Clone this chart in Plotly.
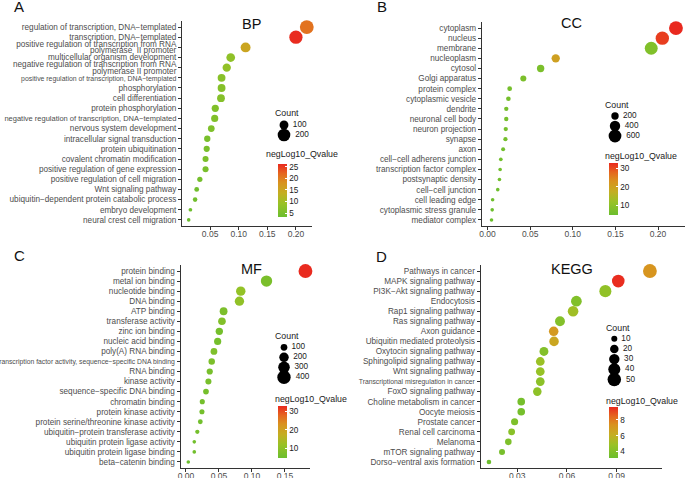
import plotly.graph_objects as go

W, H = 685, 478
FONT = "Liberation Sans, Arial, sans-serif"
MINUS = "\u2212"

# ---------------- data ----------------
bp_terms = [
    "regulation of transcription, DNA-templated",
    "transcription, DNA-templated",
    "positive regulation of transcription from RNA polymerase II promoter",
    "multicellular organism development",
    "negative regulation of transcription from RNA polymerase II promoter",
    "positive regulation of transcription, DNA-templated",
    "phosphorylation",
    "cell differentiation",
    "protein phosphorylation",
    "negative regulation of transcription, DNA-templated",
    "nervous system development",
    "intracellular signal transduction",
    "protein ubiquitination",
    "covalent chromatin modification",
    "positive regulation of gene expression",
    "positive regulation of cell migration",
    "Wnt signaling pathway",
    "ubiquitin-dependent protein catabolic process",
    "embryo development",
    "neural crest cell migration",
]
bp_ratio = [0.219, 0.200, 0.112, 0.086, 0.079, 0.070, 0.070, 0.069, 0.059, 0.058,
            0.052, 0.045, 0.044, 0.042, 0.042, 0.032, 0.0265, 0.0237, 0.0155, 0.0125]
bp_count = [241, 220, 123, 95, 87, 77, 77, 76, 65, 64, 57, 50, 48, 46, 46, 35, 29, 26, 17, 14]
bp_q = [21.0, 26.0, 15.0, 7.9, 8.3, 7.0, 6.6, 6.5, 6.0, 6.0, 5.8, 5.0, 5.0, 5.3, 5.0, 4.5, 4.0, 4.0, 3.5, 3.3]

cc_terms = [
    "cytoplasm", "nucleus", "membrane", "nucleoplasm", "cytosol", "Golgi apparatus",
    "protein complex", "cytoplasmic vesicle", "dendrite", "neuronal cell body",
    "neuron projection", "synapse", "axon", "cell-cell adherens junction",
    "transcription factor complex", "postsynaptic density", "cell-cell junction",
    "cell leading edge", "cytoplasmic stress granule", "mediator complex",
]
cc_ratio = [0.221, 0.205, 0.192, 0.080, 0.0623, 0.042, 0.026, 0.0245, 0.022, 0.022,
            0.0214, 0.021, 0.0183, 0.0156, 0.0148, 0.014, 0.012, 0.006, 0.0055, 0.0047]
cc_count = [707, 656, 614, 256, 199, 134, 83, 78, 70, 70, 68, 67, 59, 50, 47, 45, 38, 19, 18, 15]
cc_q = [32.7, 31.0, 8.0, 20.0, 7.0, 7.0, 6.0, 6.0, 6.0, 6.0, 6.0, 6.0, 5.5, 5.5, 5.5, 5.5, 5.0, 5.0, 4.8, 4.6]

mf_terms = [
    "protein binding", "metal ion binding", "nucleotide binding", "DNA binding",
    "ATP binding", "transferase activity", "zinc ion binding", "nucleic acid binding",
    "poly(A) RNA binding",
    "transcription factor activity, sequence-specific DNA binding",
    "RNA binding", "kinase activity", "sequence-specific DNA binding",
    "chromatin binding", "protein kinase activity",
    "protein serine/threonine kinase activity",
    "ubiquitin-protein transferase activity", "ubiquitin protein ligase activity",
    "ubiquitin protein ligase binding", "beta-catenin binding",
]
mf_ratio = [0.181, 0.122, 0.083, 0.081, 0.057, 0.0545, 0.0505, 0.048, 0.0424, 0.039,
            0.036, 0.034, 0.0303, 0.0247, 0.0242, 0.0217, 0.0172, 0.0126, 0.0126, 0.0035]
mf_count = [430, 290, 200, 195, 137, 131, 121, 115, 102, 94, 86, 82, 73, 59, 58, 52, 41, 30, 30, 9]
mf_q = [32.5, 6.8, 10.7, 10.5, 7.0, 8.0, 6.0, 6.0, 7.5, 7.0, 6.5, 6.5, 6.0, 6.0, 6.0, 5.5, 6.0, 5.5, 5.5, 4.5]

kegg_terms = [
    "Pathways in cancer", "MAPK signaling pathway", "PI3K-Akt signaling pathway",
    "Endocytosis", "Rap1 signaling pathway", "Ras signaling pathway", "Axon guidance",
    "Ubiquitin mediated proteolysis", "Oxytocin signaling pathway",
    "Sphingolipid signaling pathway", "Wnt signaling pathway",
    "Transcriptional misregulation in cancer", "FoxO signaling pathway",
    "Choline metabolism in cancer", "Oocyte meiosis", "Prostate cancer",
    "Renal cell carcinoma", "Melanoma", "mTOR signaling pathway",
    "Dorso-ventral axis formation",
]
kegg_ratio = [0.1101, 0.091, 0.0832, 0.0657, 0.0637, 0.0558, 0.052, 0.0522, 0.0461, 0.0439,
              0.0439, 0.0439, 0.0421, 0.0324, 0.0324, 0.0284, 0.0266, 0.0246, 0.0208, 0.0129]
kegg_count = [53, 44, 40, 32, 31, 27, 25, 25, 22, 21, 21, 21, 20, 16, 16, 14, 13, 12, 10, 6]
kegg_q = [7.2, 9.5, 4.5, 3.9, 5.0, 4.0, 7.0, 6.4, 4.0, 4.8, 4.7, 4.3, 4.4, 3.5, 3.5, 3.8, 4.2, 3.8, 3.6, 3.2]

count_breaks = {
    "BP": [100, 200],
    "CC": [200, 400, 600],
    "MF": [100, 200, 300, 400],
    "KEGG": [10, 20, 30, 40, 50],
}
q_breaks = {
    "BP": [5, 10, 15, 20, 25],
    "CC": [10, 20, 30],
    "MF": [10, 20, 30],
    "KEGG": [4, 6, 8],
}
q_limits = {"BP": (3.3, 26.2), "CC": (4.6, 32.7), "MF": (4.5, 32.7), "KEGG": (3.15, 9.57)}

# ---------------- styling helpers ----------------
SCALE = [[0.0, "#6CBE2E"], [0.25, "#98C226"], [0.45, "#C4AE22"],
         [0.65, "#D9921F"], [0.82, "#E5661F"], [1.0, "#E9291F"]]
TXT = "#4D4D4D"
TICKFONT = 8.2


def X(px):
    return px / W


def Y(py):
    return 1 - py / H


small = {
    "positive regulation of transcription, DNA-templated": 6.9,
    "negative regulation of transcription, DNA-templated": 7.5,
    "transcription factor activity, sequence-specific DNA binding": 6.8,
    "Transcriptional misregulation in cancer": 6.8,
}
# labels printed on two tightly spaced lines
wrap = {
    "positive regulation of transcription from RNA polymerase II promoter":
        ("positive regulation of transcription from RNA", "polymerase  II promoter"),
    "negative regulation of transcription from RNA polymerase II promoter":
        ("negative regulation of transcription from RNA", "polymerase II promoter"),
}


def label(t):
    if t in wrap:
        return ""
    s = t.replace("-", MINUS)
    if t in small:
        s = "<span style='font-size:%gpx'>%s</span>" % (small[t], s)
    return s


panels = [
    dict(name="BP", terms=bp_terms, ratio=bp_ratio, count=bp_count, q=bp_q,
         xd=(182, 311.7), yd=(21, 226), xr=[0.0008, 0.2276], tv=[0.05, 0.10, 0.15, 0.20], fmt=".2f",
         letter=("A", 18.5, 7), title=(251.7, 24),
         cnt_title=(272.7, 112.7), cnt_x=284, cnt_y0=125, cnt_dy=10,
         cb=(278, 164, 53), cb_title=(264, 154)),
    dict(name="CC", terms=cc_terms, ratio=cc_ratio, count=cc_count, q=cc_q,
         xd=(481.8, 685), yd=(22, 226), xr=[-0.0067, 0.2316], tv=[0, 0.05, 0.10, 0.15, 0.20], fmt=".2f",
         letter=("B", 381.7, 7), title=(571, 23),
         cnt_title=(603.3, 105), cnt_x=615, cnt_y0=116, cnt_dy=10,
         cb=(609.3, 163.3, 52), cb_title=(603.3, 155.7)),
    dict(name="MF", terms=mf_terms, ratio=mf_ratio, count=mf_count, q=mf_q,
         xd=(180.5, 310), yd=(265, 468), xr=[-0.0083, 0.1879], tv=[0, 0.05, 0.10, 0.15], fmt=".2f",
         letter=("C", 19, 256), title=(251.7, 268.7),
         cnt_title=(272.7, 336.3), cnt_x=284, cnt_y0=347.3, cnt_dy=10,
         cb=(278.3, 406.3, 52), cb_title=(272.7, 398.7)),
    dict(name="KEGG", terms=kegg_terms, ratio=kegg_ratio, count=kegg_count, q=kegg_q,
         xd=(480.5, 662), yd=(265, 468), xr=[0.0078, 0.1174], tv=[0.03, 0.06, 0.09], fmt=".2f",
         letter=("D", 381.7, 256.5), title=(571.7, 268.7),
         cnt_title=(604.3, 328), cnt_x=614.3, cnt_y0=338.7, cnt_dy=10.2,
         cb=(609.3, 407.3, 51), cb_title=(604.3, 401.3)),
]

fig = go.Figure()
layout = dict(
    width=W, height=H, margin=dict(l=0, r=0, t=0, b=0, pad=0, autoexpand=False),
    paper_bgcolor="white", plot_bgcolor="rgba(0,0,0,0)",
    showlegend=False, font=dict(family=FONT, color=TXT),
    annotations=[],
)

MAXD = 9.8  # diameter (px) of the largest point in each panel

for i, p in enumerate(panels, start=1):
    sfx = "" if i == 1 else str(i)
    sizeref = max(p["count"]) / MAXD ** 2
    ca = "coloraxis" + sfx
    n = len(p["terms"])
    fig.add_trace(go.Scatter(
        x=p["ratio"], y=p["terms"], mode="markers",
        xaxis="x" + sfx, yaxis="y" + sfx,
        marker=dict(size=p["count"], sizemode="area", sizeref=sizeref, sizemin=1.8,
                    color=p["q"], coloraxis=ca, line=dict(width=0), opacity=1),
        hovertemplate="%{y}<br>GeneRatio %{x}<extra></extra>",
        cliponaxis=False,
    ))
    layout["xaxis" + sfx] = dict(
        domain=[X(p["xd"][0]), X(p["xd"][1])], anchor="y" + sfx, range=p["xr"],
        showline=True, linecolor="#333333", linewidth=1, ticks="outside", ticklen=3,
        tickcolor="#333333", tickvals=p["tv"], tickformat=p["fmt"], showgrid=False, zeroline=False,
        tickfont=dict(size=8.5, color=TXT, family=FONT), ticklabelstandoff=-3,
    )
    ydom = [Y(p["yd"][1]), Y(p["yd"][0])]
    yr = [-0.6, n - 0.4]
    layout["yaxis" + sfx] = dict(
        domain=ydom, anchor="x" + sfx, type="category",
        categoryorder="array", categoryarray=list(reversed(p["terms"])),
        range=yr,
        tickvals=p["terms"], ticktext=[label(t) for t in p["terms"]],
        showline=True, linecolor="#333333", linewidth=1, ticks="outside", ticklen=3,
        tickcolor="#333333", showgrid=False, zeroline=False,
        tickfont=dict(size=TICKFONT, color=TXT, family=FONT),
    )
    # two-line labels drawn by an overlaid numeric axis so the lines sit tightly
    split = [t for t in p["terms"] if t in wrap]
    if split:
        tv, tt = [], []
        for t in split:
            idx = n - 1 - p["terms"].index(t)
            tv += [idx + 0.31, idx - 0.31]
            tt += [wrap[t][0].replace("-", MINUS), wrap[t][1]]
        layout["yaxis6"] = dict(
            domain=ydom, overlaying="y" + sfx, anchor="x" + sfx, side="left", type="linear",
            range=yr, tickmode="array", tickvals=tv, ticktext=tt,
            showline=False, ticks="outside", ticklen=3, tickcolor="rgba(0,0,0,0)",
            showgrid=False, zeroline=False, fixedrange=True,
            tickfont=dict(size=TICKFONT, color=TXT, family=FONT),
        )
        fig.add_trace(go.Scatter(x=[None], y=[None], xaxis="x" + sfx, yaxis="y6",
                                 mode="markers", hoverinfo="skip"))
    lo, hi = q_limits[p["name"]]
    cbx, cby, cblen = p["cb"]
    layout[ca] = dict(
        cmin=lo, cmax=hi, colorscale=SCALE,
        colorbar=dict(x=X(cbx), xanchor="left", y=Y(cby), yanchor="top",
                      len=cblen, lenmode="pixels", thickness=9, thicknessmode="pixels",
                      xpad=0, ypad=0, outlinewidth=0, tickvals=q_breaks[p["name"]],
                      ticks="inside", ticklen=2, tickcolor="white",
                      tickfont=dict(size=8.2, color="#1A1A1A", family=FONT)),
    )
    lt, lx, ly = p["letter"]
    layout["annotations"].append(dict(text=lt, x=X(lx), y=Y(ly), xref="paper", yref="paper",
                                      showarrow=False, xanchor="center", yanchor="middle",
                                      font=dict(size=15, color="#111111", family=FONT)))
    tx, ty = p["title"]
    layout["annotations"].append(dict(text=p["name"], x=X(tx), y=Y(ty), xref="paper", yref="paper",
                                      showarrow=False, xanchor="center", yanchor="middle",
                                      font=dict(size=14.5, color="#111111", family=FONT)))
    cx, cy = p["cnt_title"]
    layout["annotations"].append(dict(text="Count", x=X(cx), y=Y(cy), xref="paper", yref="paper",
                                      showarrow=False, xanchor="left", yanchor="middle",
                                      font=dict(size=8.8, color="#1A1A1A", family=FONT)))
    bx, by = p["cb_title"]
    layout["annotations"].append(dict(text="negLog10_Qvalue", x=X(bx), y=Y(by), xref="paper",
                                      yref="paper", showarrow=False, xanchor="left", yanchor="middle",
                                      font=dict(size=8.8, color="#1A1A1A", family=FONT)))
    brk = count_breaks[p["name"]]
    ys = [p["cnt_y0"] + k * p["cnt_dy"] for k in range(len(brk))]
    fig.add_trace(go.Scatter(
        x=[p["cnt_x"]] * len(brk), y=ys, mode="markers+text",
        text=[" " + str(b) for b in brk], textposition="middle right",
        textfont=dict(size=8.2, color="#1A1A1A", family=FONT),
        xaxis="x5", yaxis="y5", hoverinfo="skip",
        marker=dict(size=brk, sizemode="area", sizeref=sizeref, sizemin=1.8,
                    color="black", line=dict(width=0), opacity=1),
        cliponaxis=False,
    ))

layout["xaxis5"] = dict(domain=[0, 1], range=[0, W], visible=False, anchor="y5", fixedrange=True)
layout["yaxis5"] = dict(domain=[0, 1], range=[H, 0], visible=False, anchor="x5", fixedrange=True)

fig.update_layout(**layout)
fig.write_html("out.html", config={"displayModeBar": False},
               post_script="document.body.style.margin='0px';document.body.style.overflow='hidden';")
